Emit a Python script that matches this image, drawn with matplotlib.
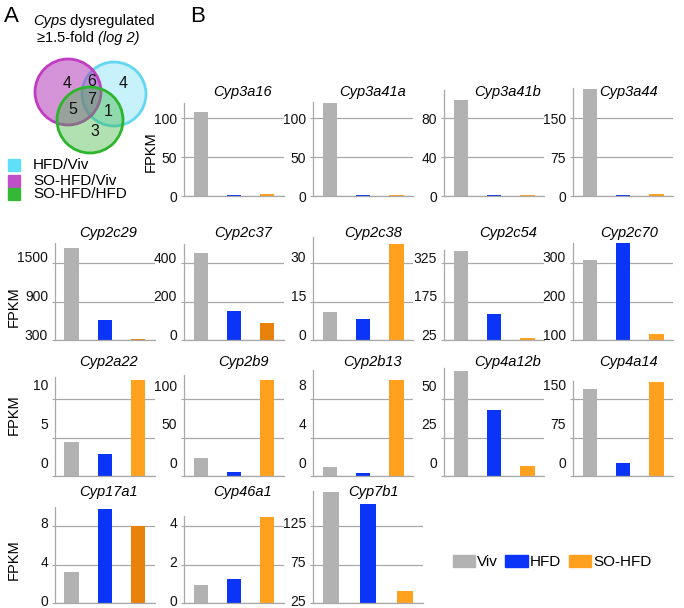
import matplotlib.pyplot as plt
from matplotlib.patches import Circle, Rectangle, Patch
from matplotlib.colors import to_rgba
from matplotlib.transforms import ScaledTranslation

plt.rcParams['font.family'] = ['Liberation Sans', 'DejaVu Sans']

W, H = 684, 608

# --- panel B data (FPKM) ---
genes = ['Cyp3a16', 'Cyp3a41a', 'Cyp3a41b', 'Cyp3a44',
         'Cyp2c29', 'Cyp2c37', 'Cyp2c38', 'Cyp2c54', 'Cyp2c70',
         'Cyp2a22', 'Cyp2b9', 'Cyp2b13', 'Cyp4a12b', 'Cyp4a14',
         'Cyp17a1', 'Cyp46a1', 'Cyp7b1']
viv = [108, 119, 98, 205, 1730, 450, 11, 371, 308, 4.4, 24, 0.9, 68, 170, 3.2, 0.93, 169]
hfd = [1.0, 0.8, 0.8, 2, 610, 150, 8, 125, 351, 2.9, 5, 0.3, 43, 26, 9.8, 1.25, 153]
so_hfd = [2.5, 0.8, 0.8, 3, 315, 87, 37.5, 33, 115, 12.5, 125, 10, 6.6, 183, 8.0, 4.45, 40]
yticks = [[0, 50, 100], [0, 50, 100], [0, 40, 80], [0, 75, 150],
          [300, 900, 1500], [0, 200, 400], [0, 15, 30], [25, 175, 325], [100, 200, 300],
          [0, 5, 10], [0, 50, 100], [0, 4, 8], [0, 25, 50], [0, 75, 150],
          [0, 4, 8], [0, 2, 4], [25, 75, 125]]
ytop = [119, 120, 109, 208, 1810, 500, 40, 375, 352, 12.9, 131, 11, 70, 185, 10, 4.5, 170]
dark_orange_genes = ['Cyp2c29', 'Cyp2c37', 'Cyp17a1']
groups = ['Viv', 'HFD', 'SO-HFD']

# --- panel A data ---
venn_sets = ['HFD/Viv', 'SO-HFD/Viv', 'SO-HFD/HFD']
venn_counts = ['4', '6', '4', '5', '7', '1', '3']

# layout (pixels)
pos = [(0, 1), (0, 2), (0, 3), (0, 4),
       (1, 0), (1, 1), (1, 2), (1, 3), (1, 4),
       (2, 0), (2, 1), (2, 2), (2, 3), (2, 4),
       (3, 0), (3, 1), (3, 2)]
col_x = [55, 184, 313, 444, 573]
row_base = [196, 340, 476, 603]
row_step = [39, 38.5, 38.5, 38.5]
row_label_dy = [0, 6, 14, 3]
title_x = [108, 243, 373, 508, 629]
title_y = [92, 233, 362, 492]
fpkm_xy = [(151, 152), (14, 307), (14, 415), (14, 560)]

gray = '#B2B2B2'
blue = '#0A35F8'
orange = '#FFA01E'
dark_orange = '#E8820A'
grid_c = '#A8A8A8'

fig = plt.figure(figsize=(W / 100, H / 100), dpi=100)

# overlay axes in pixel coords for panel A and letters
ov = fig.add_axes([0, 0, 1, 1])
ov.set_xlim(0, W)
ov.set_ylim(H, 0)
ov.axis('off')

for i, g in enumerate(genes):
    r, c = pos[i]
    t = yticks[i]
    step = t[1] - t[0]
    hpx = (ytop[i] - t[0]) / step * row_step[r]
    wpx = 110 if g == 'Cyp7b1' else 100
    ax = fig.add_axes([col_x[c] / W, 1 - row_base[r] / H, wpx / W, hpx / H])
    oc = dark_orange if g in dark_orange_genes else orange
    ax.bar(range(3), [viv[i], hfd[i], so_hfd[i]], width=0.43, color=[gray, blue, oc])
    ax.set_xlim(-0.5, 2.5)
    ax.set_ylim(t[0], ytop[i])
    ax.set_xticks([])
    ax.set_yticks(t)
    ax.yaxis.grid(True, color=grid_c, lw=0.9)
    ax.set_axisbelow(True)
    ax.patch.set_visible(False)
    for s in ['top', 'right']:
        ax.spines[s].set_visible(False)
    for s in ['left', 'bottom']:
        ax.spines[s].set_color(grid_c)
        ax.spines[s].set_linewidth(0.9)
    ax.tick_params(axis='y', length=2.5, color=grid_c, width=0.8, pad=2.5,
                   labelsize=10, labelcolor='#111111')
    dy = row_label_dy[r]
    for lab in ax.get_yticklabels():
        lab.set_transform(lab.get_transform() + ScaledTranslation(0, dy / 100, fig.dpi_scale_trans))
    fig.text(title_x[c] / W, 1 - title_y[r] / H, g, ha='center', va='center',
             style='italic', fontsize=10.5)

for x, y in fpkm_xy:
    fig.text(x / W, 1 - y / H, 'FPKM', rotation=90, ha='center', va='center', fontsize=10.5)

# legend for panel B
handles = [Patch(color=gray), Patch(color=blue), Patch(color=orange)]
fig.legend(handles, groups, loc='center', bbox_to_anchor=(552 / W, 1 - 562 / H), ncol=3,
           frameon=False, fontsize=11, handlelength=1.45, handleheight=0.8,
           handletextpad=0.15, columnspacing=0.5, borderpad=0)

# panel letters
ov.text(11, 17, 'A', fontsize=16, ha='center', va='center')
ov.text(198, 17, 'B', fontsize=16, ha='center', va='center')

# Venn title
t1 = ov.text(33, 21, 'Cyps', style='italic', fontsize=10.5, ha='left', va='center')
ov.annotate(' dysregulated', xy=(1, 0), xycoords=t1, ha='left', va='bottom', fontsize=10.5)
t2 = ov.text(37, 38, '≥1.5-fold ', fontsize=10.5, ha='left', va='center')
ov.annotate('(log 2)', xy=(1, 0), xycoords=t2, ha='left', va='bottom', fontsize=10.5, style='italic')

# Venn circles: cyan (HFD/Viv), magenta (SO-HFD/Viv), green (SO-HFD/HFD)
circles = [((114, 94), 32, '#5FD8F5', 0.35, '#62D7F3'),
           ((68, 92), 33, '#B53DB9', 0.55, '#BF3CC3'),
           ((90, 120), 33, '#3DB53D', 0.40, '#2DB52D')]
for (cx, cy), rad, fc, a, ec in circles:
    ov.add_patch(Circle((cx, cy), rad, facecolor=to_rgba(fc, a), edgecolor=ec, lw=2.0))

count_xy = [(67, 84), (92, 81), (123, 84), (73, 109), (92, 100), (108, 112), (95, 131)]
for (x, y), n in zip(count_xy, venn_counts):
    ov.text(x, y, n, fontsize=11.5, ha='center', va='center', color='#111111')

# Venn legend
leg_colors = ['#5FE0F8', '#BF4FC8', '#35B835']
leg_y = [165, 181, 194]
for lab, col, y in zip(venn_sets, leg_colors, leg_y):
    ov.add_patch(Rectangle((8, y - 6), 12, 12, color=col))
    ov.text(33, y, lab, fontsize=11, ha='left', va='center')

fig.savefig('out.png', dpi=100)
